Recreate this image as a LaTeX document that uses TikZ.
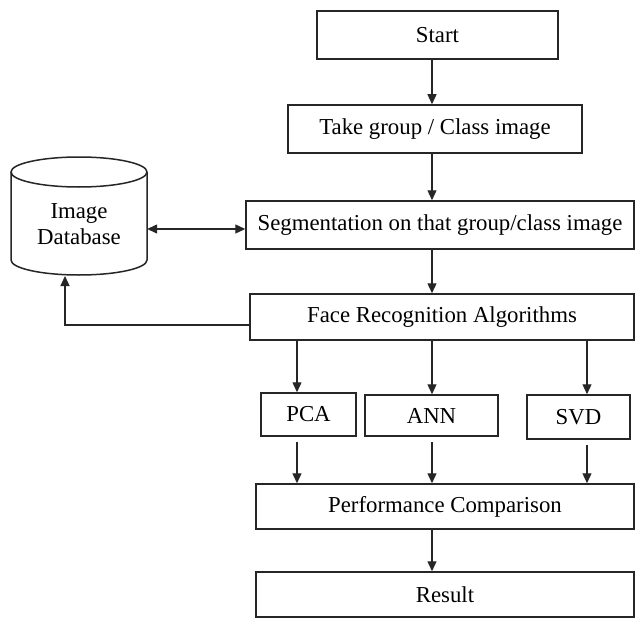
\documentclass[tikz,border=0pt]{standalone}
\usepackage{fontspec}
\setmainfont{Liberation Serif}
\usetikzlibrary{arrows.meta}
\begin{document}
\begin{tikzpicture}[x=1pt,y=-1pt,
  box/.style={draw=black!85, line width=1.5pt, rectangle, inner sep=0pt, font=\fontsize{22.8}{26}\selectfont},
  arr/.style={draw=black!85, line width=1.3pt, -{Triangle[length=10pt,width=9pt]}},
  darr/.style={draw=black!85, line width=1.3pt, {Triangle[length=10pt,width=9pt]}-{Triangle[length=10pt,width=9pt]}},
  line/.style={draw=black!85, line width=1.3pt}]
\useasboundingbox (0,0) rectangle (635,618);
\fill[white] (0,0) rectangle (635,618);
% boxes
\node[box, minimum width=241pt, minimum height=48pt] (start) at (437.5,35) {Start};
\node[box, minimum width=294pt, minimum height=48pt] (take) at (435,129) {Take group / Class image};
\node[box, minimum width=388pt, minimum height=48pt] (seg) at (440,225) {Segmentation on that group/class image};
\node[box, minimum width=384pt, minimum height=46pt] (face) at (442,317) {Face Recognition Algorithms};
\node[box, minimum width=95pt, minimum height=43pt] (pca) at (308.5,414.5) {PCA};
\node[box, minimum width=133pt, minimum height=41pt] (ann) at (431.5,415.5) {ANN};
\node[box, minimum width=103pt, minimum height=44pt] (svd) at (578.5,417) {SVD};
\node[box, minimum width=378pt, minimum height=45pt] (perf) at (445,506.5) {Performance Comparison};
\node[box, minimum width=378pt, minimum height=45pt] (res) at (445,594.5) {Result};
% cylinder
\draw[line width=1.5pt, draw=black!85] (11,172) -- (11,260)
  arc[start angle=180, end angle=360, x radius=68pt, y radius=15pt] -- (147,172);
\draw[line width=1.5pt, draw=black!85] (79,172) ellipse [x radius=68pt, y radius=15pt];
\node[inner sep=0pt, minimum width=136pt, minimum height=103pt, align=center,
  font=\fontsize{22.8}{26}\selectfont] (db) at (79,224) {Image\\Database};
% arrow columns
\coordinate (cm) at (432,0);
\coordinate (cl) at (297,0);
\coordinate (cr) at (587,0);
\coordinate (fb) at (65,325);
\coordinate (dbb) at (65,276);
\draw[arr] (start.south -| cm) -- (take.north -| cm);
\draw[arr] (take.south -| cm) -- (seg.north -| cm);
\draw[arr] (seg.south -| cm) -- (face.north -| cm);
\draw[arr] (face.south -| cl) -- (pca.north -| cl);
\draw[arr] (face.south -| cm) -- (ann.north -| cm);
\draw[arr] (face.south -| cr) -- (svd.north -| cr);
\draw[arr] ([yshift=-5pt]pca.south -| cl) -- (perf.north -| cl);
\draw[arr] ([yshift=-5pt]ann.south -| cm) -- (perf.north -| cm);
\draw[arr] ([yshift=-5pt]svd.south -| cr) -- (perf.north -| cr);
\draw[arr] (perf.south -| cm) -- (res.north -| cm);
\draw[darr] (db.east |- 0,229) -- (seg.west |- 0,229);
\draw[arr] (face.west |- fb) -- (fb) -- (dbb);
\end{tikzpicture}
\end{document}
